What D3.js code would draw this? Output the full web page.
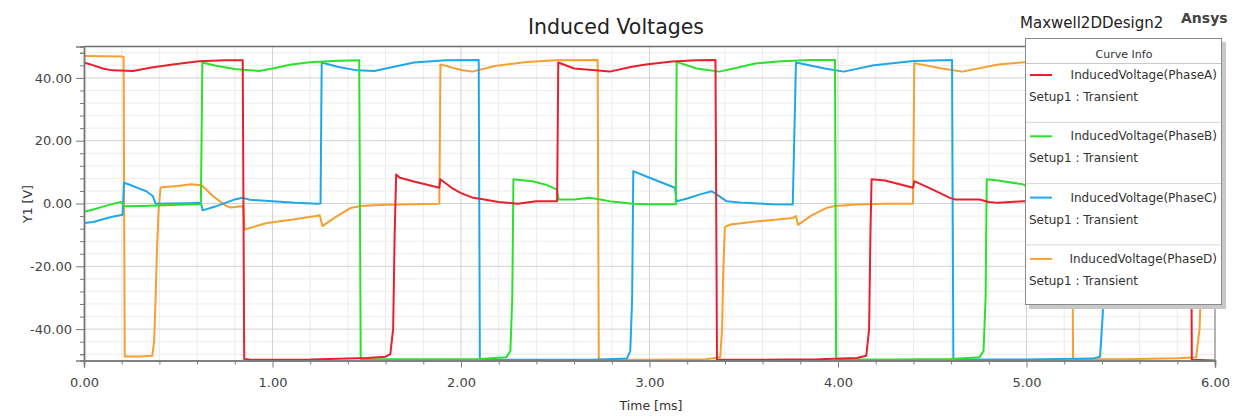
<!DOCTYPE html>
<html>
<head>
<meta charset="utf-8">
<script src="https://cdn.jsdelivr.net/npm/d3@7"></script>
<style>
  html, body { margin: 0; padding: 0; background: #ffffff; }
  svg { display: block; font-family: "DejaVu Sans", sans-serif; }
</style>
</head>
<body>
<svg id="chart" width="1234" height="419"></svg>
<script>
// ---------------- DATA ----------------
const seriesNames = ["InducedVoltage(PhaseA)", "InducedVoltage(PhaseB)", "InducedVoltage(PhaseC)", "InducedVoltage(PhaseD)"];
const setupLabel = "Setup1 : Transient";
const xTicks = [0, 1, 2, 3, 4, 5, 6];
const yTicks = [-40, -20, 0, 20, 40];

// [time ms, voltage V]
const phaseA = [
  [0.000, 44.9], [0.05, 44.0], [0.10, 43.0], [0.15, 42.4], [0.26, 42.2], [0.35, 43.2], [0.47, 44.3],
  [0.61, 45.3], [0.75, 45.6], [0.842, 45.6], [0.850, -49.5], [0.90, -49.8], [1.20, -49.7], [1.50, -49.2],
  [1.60, -48.8], [1.625, -48.0], [1.640, -40], [1.648, -10], [1.656, 9.2], [1.676, 8.2], [1.75, 7.0],
  [1.853, 5.5], [1.885, 5.0], [1.890, 7.7], [1.95, 5.0], [2.00, 3.3], [2.065, 1.8], [2.10, 1.5],
  [2.20, 0.5], [2.30, -0.1], [2.40, 0.7], [2.510, 0.7], [2.516, 44.9], [2.60, 43.0], [2.79, 42.0],
  [2.90, 43.5], [2.98, 44.3], [3.12, 45.2], [3.25, 45.6], [3.350, 45.7], [3.358, -49.8], [3.60, -49.8],
  [3.90, -49.6], [4.10, -49.2], [4.150, -48.5], [4.165, -40], [4.172, -10], [4.178, 7.7], [4.25, 7.3],
  [4.398, 5.0], [4.405, 7.1], [4.50, 4.5], [4.594, 1.8], [4.62, 1.3], [4.75, 1.3], [4.80, 0.5],
  [4.85, 0.2], [4.98, 0.7], [5.02, 0.7], [5.025, 45.0], [5.15, 43.0], [5.30, 42.0], [5.45, 44.3],
  [5.60, 45.3], [5.870, 45.6], [5.877, -49.8], [6.00, -50.0]
];
const phaseB = [
  [0.000, -2.6], [0.05, -1.9], [0.10, -1.0], [0.15, -0.2], [0.195, 0.5], [0.215, -0.9], [0.30, -0.8],
  [0.40, -0.6], [0.50, -0.4], [0.62, -0.2], [0.628, 44.9], [0.70, 43.9], [0.80, 42.8], [0.93, 42.2],
  [1.00, 43.0], [1.10, 44.3], [1.20, 45.0], [1.35, 45.5], [1.460, 45.6], [1.468, -49.5], [1.80, -49.6],
  [2.10, -49.5], [2.24, -49.0], [2.262, -47.0], [2.272, -30.0], [2.278, 7.7], [2.30, 7.6], [2.38, 7.1],
  [2.45, 6.0], [2.508, 4.5], [2.518, 1.3], [2.60, 1.3], [2.68, 1.8], [2.74, 1.3], [2.80, 0.6],
  [2.91, -0.1], [3.00, -0.2], [3.140, -0.2], [3.144, 45.1], [3.25, 43.0], [3.37, 42.0], [3.47, 43.3],
  [3.56, 44.6], [3.70, 45.3], [3.85, 45.7], [3.984, 45.7], [3.990, -49.6], [4.30, -49.7], [4.60, -49.5],
  [4.75, -49.0], [4.772, -47.0], [4.783, -30.0], [4.789, 7.7], [4.85, 7.3], [4.98, 6.1], [5.02, 5.0],
  [5.03, 1.0], [5.30, 1.2], [5.50, 0.0], [5.64, -0.2], [5.645, 45.0], [5.75, 43.0], [5.87, 42.0],
  [6.00, 43.5]
];
const phaseC = [
  [0.000, -6.2], [0.05, -5.9], [0.10, -5.0], [0.15, -4.2], [0.205, -3.6], [0.212, 6.6], [0.25, 5.8],
  [0.30, 4.6], [0.33, 3.9], [0.365, 2.4], [0.38, -0.1], [0.45, 0.0], [0.55, 0.1], [0.62, 0.2],
  [0.630, -2.2], [0.70, -0.9], [0.80, 1.3], [0.84, 1.8], [0.88, 1.2], [1.00, 0.7], [1.12, 0.2],
  [1.24, -0.1], [1.255, 0.0], [1.261, 44.9], [1.35, 43.5], [1.45, 42.4], [1.54, 42.2], [1.62, 43.2],
  [1.75, 44.9], [1.92, 45.6], [2.094, 45.7], [2.100, -49.7], [2.40, -49.8], [2.70, -49.8], [2.88, -49.4],
  [2.898, -47.0], [2.908, -30.0], [2.914, 10.3], [3.00, 8.2], [3.135, 5.0], [3.144, 0.7], [3.20, 1.6],
  [3.268, 2.9], [3.33, 3.9], [3.356, 2.9], [3.41, 0.7], [3.50, 0.2], [3.65, -0.2], [3.76, -0.3],
  [3.777, 44.9], [3.93, 43.0], [4.03, 42.0], [4.19, 44.0], [4.40, 45.4], [4.605, 45.7], [4.612, -49.7],
  [5.00, -49.7], [5.35, -49.4], [5.39, -48.8], [5.405, -35.0], [5.412, 10.0], [5.50, 8.0], [5.64, 5.0],
  [5.645, 0.7], [5.80, 3.0], [5.87, 3.9], [5.88, 2.9], [5.94, 0.7], [6.00, 0.2]
];
const phaseD = [
  [0.000, 47.0], [0.20, 46.8], [0.210, 46.7], [0.216, -48.7], [0.30, -48.7], [0.362, -48.5], [0.372, -44.0],
  [0.380, -30.0], [0.387, -15.0], [0.395, -3.0], [0.405, 4.5], [0.41, 5.2], [0.50, 5.6], [0.566, 6.1],
  [0.624, 5.8], [0.685, 2.3], [0.757, -0.9], [0.78, -1.3], [0.83, -0.9], [0.845, -1.0], [0.852, -8.3],
  [0.97, -6.2], [1.10, -5.2], [1.23, -4.0], [1.250, -3.7], [1.265, -7.2], [1.33, -4.5], [1.415, -1.4],
  [1.468, -0.8], [1.60, -0.4], [1.75, -0.2], [1.885, -0.1], [1.891, 44.3], [2.00, 42.5], [2.06, 42.0],
  [2.18, 43.8], [2.35, 45.1], [2.50, 45.6], [2.725, 45.7], [2.731, -49.8], [3.00, -49.8], [3.30, -49.6],
  [3.375, -49.0], [3.385, -40.0], [3.392, -20.0], [3.40, -7.5], [3.41, -7.2], [3.43, -6.7], [3.586, -5.6],
  [3.76, -4.6], [3.777, -4.0], [3.788, -6.8], [3.86, -3.8], [3.94, -1.4], [3.984, -0.8], [4.10, -0.3],
  [4.25, -0.1], [4.398, -0.1], [4.405, 44.7], [4.55, 43.0], [4.66, 42.0], [4.85, 44.3], [4.97, 44.9],
  [5.10, 45.4], [5.240, 45.6], [5.247, -49.5], [5.50, -49.6], [5.80, -49.3], [5.90, -49.0], [5.918, -40.0],
  [5.93, -20.0], [5.94, -7.5], [6.00, -7.0]
];
const seriesColors = ["#e8202c", "#2ee02e", "#1ea8e8", "#f5a030"];

// ---------------- CHART ----------------
const svg = d3.select("#chart");
const x = d3.scaleLinear().domain([0, 6]).range([84, 1215]);
const y = d3.scaleLinear().domain([-50, 50]).range([360.5, 46.5]);

// grid
const grid = svg.append("g");
const xMinor = d3.range(0, 6.0001, 0.2).filter(v => Math.abs(v - Math.round(v)) > 1e-6);
const yMinor = d3.range(-48, 49, 4).filter(v => v % 20 !== 0);
grid.selectAll(".vxm").data(xMinor).join("line")
  .attr("x1", d => x(d)).attr("x2", d => x(d)).attr("y1", y(50)).attr("y2", y(-50))
  .attr("stroke", "#ececec").attr("stroke-width", 1);
grid.selectAll(".hym").data(yMinor).join("line")
  .attr("x1", x(0)).attr("x2", x(6)).attr("y1", d => y(d)).attr("y2", d => y(d))
  .attr("stroke", "#ececec").attr("stroke-width", 1);
grid.selectAll(".vx").data(xTicks.slice(1, -1)).join("line")
  .attr("x1", d => x(d)).attr("x2", d => x(d)).attr("y1", y(50)).attr("y2", y(-50))
  .attr("stroke", "#d2d2d2").attr("stroke-width", 1);
grid.selectAll(".hy").data(yTicks).join("line")
  .attr("x1", x(0)).attr("x2", x(6)).attr("y1", d => y(d)).attr("y2", d => y(d))
  .attr("stroke", "#d2d2d2").attr("stroke-width", 1);

// frame top/right
svg.append("line").attr("x1", x(0)).attr("x2", x(6)).attr("y1", y(50)).attr("y2", y(50))
  .attr("stroke", "#6e6e6e").attr("stroke-width", 1.5);
svg.append("line").attr("x1", x(6)).attr("x2", x(6)).attr("y1", y(50)).attr("y2", y(-50))
  .attr("stroke", "#9a9a9a").attr("stroke-width", 1.5);

// curves
const line = d3.line().x(d => x(d[0])).y(d => y(d[1]));
const allSeries = [phaseA, phaseB, phaseC, phaseD];
const drawOrder = [3, 2, 1, 0];
svg.append("g").selectAll("path").data(drawOrder).join("path")
  .attr("d", i => line(allSeries[i]))
  .attr("fill", "none")
  .attr("stroke", i => seriesColors[i])
  .attr("stroke-width", 2)
  .attr("stroke-linejoin", "round");

// axes
const fmt = d => d.toFixed(2);
const yAxis = svg.append("g").attr("transform", `translate(${x(0)},0)`)
  .call(d3.axisLeft(y).tickValues(yTicks).tickFormat(fmt).tickSize(8).tickPadding(4));
const yAxisMinor = svg.append("g").attr("transform", `translate(${x(0)},0)`)
  .call(d3.axisLeft(y).tickValues(yMinor.concat([-48, 48])).tickFormat("").tickSize(4));
const xAxis = svg.append("g").attr("transform", `translate(0,${y(-50)})`)
  .call(d3.axisBottom(x).tickValues(xTicks).tickFormat(fmt).tickSize(7).tickPadding(10));
const xAxisMinor = svg.append("g").attr("transform", `translate(0,${y(-50)})`)
  .call(d3.axisBottom(x).tickValues(xMinor).tickFormat("").tickSize(4));
[yAxis, yAxisMinor, xAxis, xAxisMinor].forEach(g => {
  g.select(".domain").attr("stroke", "#7a7a7a").attr("stroke-width", 1.5);
  g.selectAll(".tick line").attr("stroke", "#7a7a7a");
  g.selectAll(".tick text").attr("fill", "#444").attr("font-size", 13)
    .attr("font-family", "'DejaVu Sans', sans-serif");
});

// titles
svg.append("text").attr("x", 616).attr("y", 34).attr("text-anchor", "middle")
  .attr("font-size", 20.5).attr("fill", "#222").text("Induced Voltages");
svg.append("text").attr("x", 1020).attr("y", 28).attr("text-anchor", "start")
  .attr("font-size", 15).attr("fill", "#222").text("Maxwell2DDesign2");
svg.append("text").attr("x", 1181).attr("y", 23).attr("text-anchor", "start")
  .attr("font-size", 14).attr("font-weight", "bold").attr("fill", "#444").text("Ansys");
svg.append("text").attr("x", 651).attr("y", 410).attr("text-anchor", "middle")
  .attr("font-size", 12.5).attr("fill", "#333").text("Time [ms]");
svg.append("text").attr("transform", "translate(32,204) rotate(-90)").attr("text-anchor", "middle")
  .attr("font-size", 12.5).attr("fill", "#333").text("Y1 [V]");

// legend
const lg = svg.append("g");
lg.append("rect").attr("x", 1029).attr("y", 42).attr("width", 197).attr("height", 267)
  .attr("fill", "#c8c8c8");
lg.append("rect").attr("x", 1025.5).attr("y", 38.5).attr("width", 196).attr("height", 266)
  .attr("fill", "#ffffff").attr("stroke", "#8a8a8a").attr("stroke-width", 1);
lg.append("text").attr("x", 1124).attr("y", 58).attr("text-anchor", "middle")
  .attr("font-size", 11).attr("fill", "#333").text("Curve Info");
lg.append("line").attr("x1", 1026).attr("x2", 1221).attr("y1", 63.5).attr("y2", 63.5)
  .attr("stroke", "#c8c8c8");
const entryY = d3.range(4).map(i => 75 + i * 61.3);
lg.selectAll(".sep").data(entryY.slice(1)).join("line")
  .attr("x1", 1026).attr("x2", 1221).attr("y1", d => d - 14).attr("y2", d => d - 14)
  .attr("stroke", "#d8d8d8");
lg.selectAll(".sw").data(d3.range(4)).join("line")
  .attr("x1", 1030).attr("x2", 1052).attr("y1", i => entryY[i]).attr("y2", i => entryY[i])
  .attr("stroke", i => seriesColors[i]).attr("stroke-width", 2);
lg.selectAll(".nm").data(d3.range(4)).join("text")
  .attr("x", 1217).attr("y", i => entryY[i] + 4).attr("text-anchor", "end")
  .attr("font-size", 12).attr("fill", "#333").text(i => seriesNames[i]);
lg.selectAll(".su").data(d3.range(4)).join("text")
  .attr("x", 1029).attr("y", i => entryY[i] + 26).attr("text-anchor", "start")
  .attr("font-size", 12).attr("fill", "#333").text(setupLabel);
</script>
</body>
</html>
